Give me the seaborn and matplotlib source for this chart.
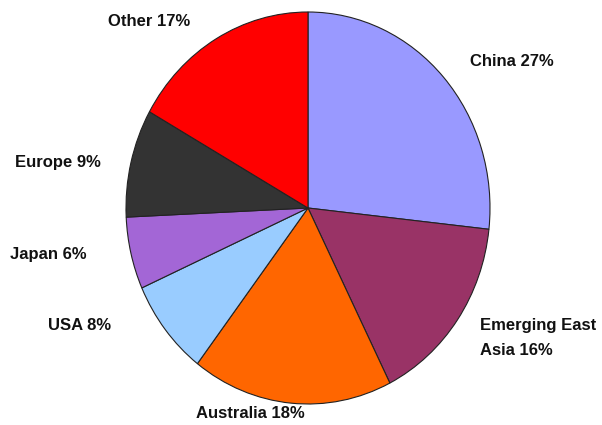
import matplotlib
matplotlib.use("Agg")
import matplotlib.pyplot as plt
import seaborn as sns

categories = ["China", "Emerging East\nAsia", "Australia", "USA", "Japan", "Europe", "Other"]
shares = [27, 16, 18, 8, 6, 9, 17]
colors = ["#9999FF", "#993366", "#FF6600", "#99CCFF", "#A366D6", "#333333", "#FF0000"]

# label anchor positions in pixels (x, y from top) and alignment
label_pos = [(470, 62, "left"), (480, 338, "left"), (250, 413, "center"),
             (48, 325, "left"), (10, 255, "left"), (15, 163, "left"), (108, 22, "left")]

sns.set_theme(style="white")
plt.rcParams['font.family'] = ['Liberation Sans', 'DejaVu Sans']

W, H = 602, 425
fig = plt.figure(figsize=(W / 100, H / 100), dpi=100)
cx, cy, rx, ry = 308, 208, 182, 196
ax = fig.add_axes([(cx - rx) / W, 1 - (cy + ry) / H, 2 * rx / W, 2 * ry / H])
wedges, _ = ax.pie(shares, colors=colors, startangle=90, counterclock=False,
                   wedgeprops=dict(edgecolor="#222222", linewidth=0.8))
ax.set_aspect("auto")
ax.set_xlim(-1, 1)
ax.set_ylim(-1, 1)
ax.axis("off")

for cat, val, (x, y, ha) in zip(categories, shares, label_pos):
    fig.text(x / W, 1 - y / H, f"{cat} {val}%", ha=ha, va="center",
             fontsize=12, fontweight="bold", color="#111111", linespacing=1.85)

fig.savefig("out.png", dpi=100)
